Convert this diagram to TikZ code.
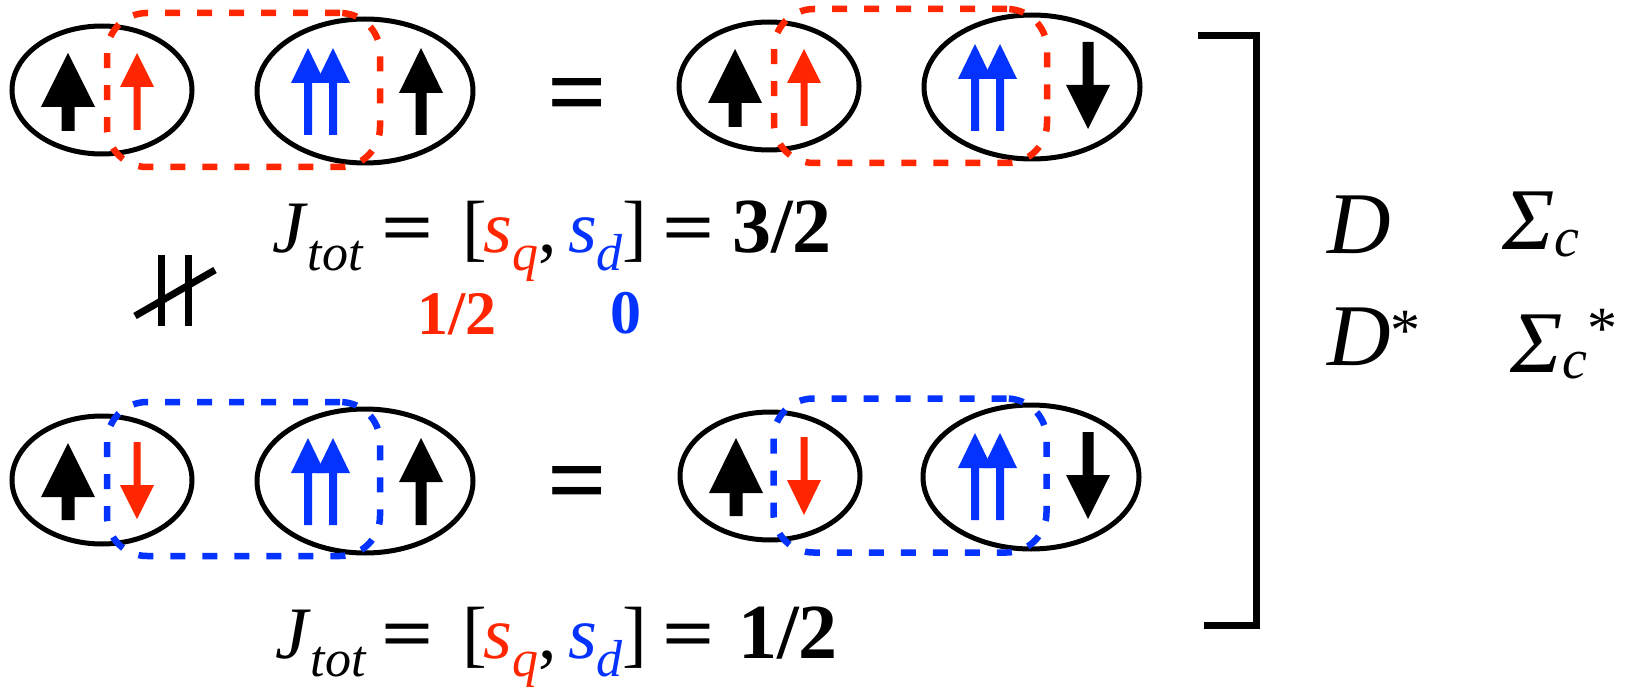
\documentclass[tikz,border=0pt]{standalone}
\usepackage{fontspec}
\usepackage{graphicx}
\setmainfont{Liberation Serif}
\usetikzlibrary{shapes.geometric}

\definecolor{qred}{RGB}{255,38,0}
\definecolor{dblue}{RGB}{4,51,255}

\newcommand{\lo}[1]{\raisebox{-0.25em}{\fontsize{52}{52}\selectfont\itshape #1}}
\newcommand{\loc}{\raisebox{-0.07em}{\fontsize{56}{56}\selectfont\itshape c}}
\newcommand{\hi}[1]{\raisebox{#1}{\fontsize{60}{60}\selectfont *}}
\newcommand{\pair}{[\hspace{-3pt}\textcolor{qred}{\textit{s}\lo{q}},\hspace{11pt}%
  \textcolor{dblue}{\textit{s}\lo{d}}]}
% colour, x, tail y, head base y, tip y, half head, half shaft
\newcommand{\spin}[7]{%
  \fill[#1] (#2-#7,#3) -- (#2+#7,#3) -- (#2+#7,#4) -- (#2+#6,#4)
    -- (#2,#5) -- (#2-#6,#4) -- (#2-#7,#4) -- cycle;}

\begin{document}
\begin{tikzpicture}[
  x=1pt, y=-1pt,
MyOval/.style={draw, ellipse, line width=5pt, inner sep=0pt, outer sep=0pt,
               minimum width=180pt, minimum height=128pt},
MyBigOval/.style={MyOval, minimum width=216pt, minimum height=144pt},
MyPair/.style={draw, line width=6.5pt, dash pattern=on 15pt off 17pt,
               rounded corners=40pt, inner sep=0pt,
               minimum width=273pt, minimum height=154pt},
MyEq/.style={font=\fontsize{74}{80}\selectfont, inner sep=0pt, anchor=base west},
MyIs/.style={font=\fontsize{92}{92}\selectfont\bfseries, inner sep=0pt, anchor=base},
MyMeson/.style={font=\fontsize{88}{96}\selectfont, inner sep=0pt, anchor=base west},
  ]
\useasboundingbox (0,0) rectangle (1633,687);

% upper row
\node [MyOval] (a1) at (102,90) {};
\node [MyBigOval] (b1) at (365,91) {};
\node [MyOval] (c1) at (769,86) {};
\node [MyBigOval] (d1) at (1032,87) {};
\node [MyPair, qred] (p1) at (243.5,90) {};
\node [MyPair, qred] (q1) at (910.5,86) {};

\spin{black}{68}{131}{107}{53}{27}{6.5}
\spin{qred}{137}{130}{87}{53}{17}{3.5}
\spin{dblue}{308}{135}{83}{48}{17}{4}
\spin{dblue}{333}{135}{83}{48}{17}{4}
\spin{black}{421}{135}{93}{48}{22}{5.5}

\spin{black}{735}{127}{103}{49}{27}{6.5}
\spin{qred}{804}{126}{83}{49}{17}{3.5}
\spin{dblue}{975}{131}{79}{44}{17}{4}
\spin{dblue}{1000}{131}{79}{44}{17}{4}
\spin{black}{1088}{42}{85}{129}{22}{5.5}

\node [font=\fontsize{105}{105}\selectfont\bfseries, inner sep=0pt] (eq1) at (577,103) {=};

% lower row
\node [MyOval] (a2) at (102,480) {};
\node [MyBigOval] (b2) at (365,481) {};
\node [MyOval] (c2) at (770,476) {};
\node [MyBigOval] (d2) at (1031,477) {};
\node [MyPair, dblue] (p2) at (243.5,479) {};
\node [MyPair, dblue] (q2) at (910,475.5) {};

\spin{black}{68}{520}{497}{443}{27}{6.5}
\spin{qred}{137}{442}{485}{519}{17}{3.5}
\spin{dblue}{308}{525}{473}{438}{17}{4}
\spin{dblue}{333}{525}{473}{438}{17}{4}
\spin{black}{421}{525}{482}{438}{22}{5.5}

\spin{black}{736}{516}{493}{438}{27}{6.5}
\spin{qred}{804}{437}{480}{515}{17}{3.5}
\spin{dblue}{975}{520}{468}{433}{17}{4}
\spin{dblue}{1000}{520}{468}{433}{17}{4}
\spin{black}{1088}{432}{475}{519}{22}{5.5}

\node [font=\fontsize{105}{105}\selectfont\bfseries, inner sep=0pt] (eq2) at (577,491) {=};

% spins, upper line
\node [MyEq] (j1) at (272,252) {\textit{J}\lo{tot}};
\node [MyIs] (j1a) at (408,252) {\scalebox{1}[0.8]{=}};
\node [MyEq] (j1b) at (462,252) {\pair};
\node [MyIs] (j1c) at (689,252) {\scalebox{1}[0.8]{=}};
\node [MyEq, font=\fontsize{78}{80}\selectfont\bfseries] (j1d) at (732,252) {3/2};
\node [font=\fontsize{62}{62}\selectfont\bfseries, text=qred, inner sep=0pt,
  anchor=base] (sq) at (457,334) {1/2};
\node [font=\fontsize{62}{62}\selectfont\bfseries, text=dblue, inner sep=0pt,
  anchor=base] (sd) at (626,333) {0};

% spins, lower line
\node [MyEq] (j2) at (275,658) {\textit{J}\lo{tot}};
\node [MyIs] (j2a) at (408,658) {\scalebox{1}[0.8]{=}};
\node [MyEq] (j2b) at (462,658) {\pair};
\node [MyIs] (j2c) at (689,658) {\scalebox{1}[0.8]{=}};
\node [MyEq, font=\fontsize{78}{80}\selectfont\bfseries] (j2d) at (738,658) {1/2};

% not parallel
\draw [line width=7pt] (161,255) -- (161,326);
\draw [line width=7pt] (188,255) -- (188,326);
\draw [line width=7pt] (135,316) -- (215,270);

% bracket
\draw [line width=7pt] (1198,36) -- (1256,36) -- (1256,625) -- (1204,625);

\node [MyMeson] (m1) at (1327,253) {\textit{D}};
\node [MyMeson] (b1x) at (1502,250) {\textit{Σ}\loc};
\node [MyMeson] (m2) at (1327,365) {\textit{D}\hi{0.17em}};
\node [MyMeson] (b2x) at (1510,372) {\textit{Σ}\loc\hi{0.27em}};
\end{tikzpicture}
\end{document}
